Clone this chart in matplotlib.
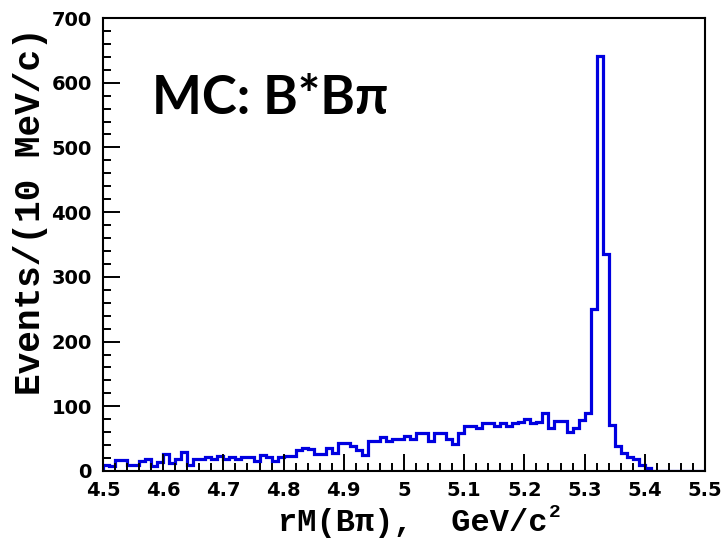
import matplotlib
matplotlib.use('Agg')
import matplotlib.pyplot as plt
from matplotlib.ticker import MultipleLocator, FormatStrFormatter
import numpy as np

# histogram range and binning (10 MeV bins)
mass_lo = 4.5
mass_hi = 5.5
n_bins = 100

# events per bin
counts = [10, 7, 17, 17, 10, 9, 15, 18, 7, 14,
          27, 12, 18, 30, 10, 19, 19, 21, 18, 23,
          18, 22, 19, 21, 21, 15, 24, 21, 15, 22,
          23, 23, 33, 36, 34, 27, 27, 35, 28, 44,
          44, 39, 33, 24, 46, 46, 52, 46, 50, 50,
          54, 49, 58, 58, 46, 59, 59, 49, 41, 59,
          69, 69, 66, 74, 74, 70, 74, 70, 74, 75,
          81, 74, 76, 89, 67, 78, 77, 61, 66, 79,
          89, 250, 642, 336, 71, 38, 28, 22, 19, 10,
          4, 0, 0, 0, 0, 0, 0, 0, 0, 0]

x_ticks = [4.5, 4.6, 4.7, 4.8, 4.9, 5.0, 5.1, 5.2, 5.3, 5.4, 5.5]
y_ticks = [0, 100, 200, 300, 400, 500, 600, 700]

edges = np.linspace(mass_lo, mass_hi, n_bins + 1)

fig = plt.figure(figsize=(7.27, 5.49), dpi=100)
ax = fig.add_axes([0.1417, 0.1421, 0.9697 - 0.1417, 0.9672 - 0.1421])

ax.stairs(counts, edges, baseline=0, color='#0000e0', linewidth=2.3)

ax.set_xlim(mass_lo, mass_hi)
ax.set_ylim(0, 700)
ax.set_xticks(x_ticks)
ax.set_yticks(y_ticks)
ax.xaxis.set_minor_locator(MultipleLocator(0.02))
ax.yaxis.set_minor_locator(MultipleLocator(20))
ax.xaxis.set_major_formatter(FormatStrFormatter('%g'))

ax.tick_params(which='both', direction='in', top=False, right=False, width=1.4)
ax.tick_params(which='major', length=12)
ax.tick_params(which='minor', length=6)
ax.tick_params(axis='x', pad=7)
ax.tick_params(axis='y', pad=8)
for lab in ax.get_xticklabels() + ax.get_yticklabels():
    lab.set_family('DejaVu Sans')
    lab.set_fontweight('bold')
    lab.set_fontsize(14)

for sp in ax.spines.values():
    sp.set_linewidth(1.5)

xl = ax.set_xlabel('rM(B\u03c0),  GeV/c', family='Liberation Mono',
                   fontweight='bold', fontsize=23, va='center')
ax.xaxis.set_label_coords(0.515, -0.115)
yl = ax.set_ylabel('Events/(10 MeV/c)', family='Liberation Mono',
                   fontweight='bold', fontsize=26, va='center')
ax.yaxis.set_label_coords(-0.121, 0.573)

# small raised "2" of c^2
ax.annotate('2', xy=(1, 1), xycoords=xl, xytext=(1, 3),
            textcoords='offset points', ha='left', va='top',
            family='Liberation Mono', fontweight='bold', fontsize=14)

ax.text(0.082, 0.823, 'MC: B*B\u03c0', transform=ax.transAxes,
        family=['Lato', 'DejaVu Sans'], fontweight='bold', fontsize=38,
        va='center', ha='left')

fig.savefig('out.png', dpi=100)
